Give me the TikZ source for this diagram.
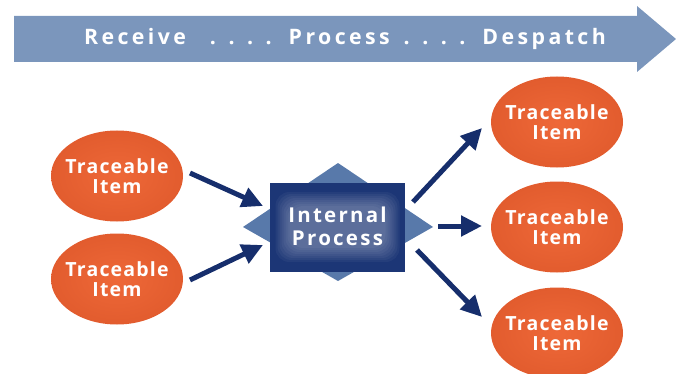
\documentclass[tikz,border=0pt]{standalone}
\usepackage{fontspec}
\setmainfont{Open Sans}
\newfontfamily\bannerfont[LetterSpace=16]{Open Sans}
\newfontfamily\itemfont[LetterSpace=6]{Open Sans}
\newfontfamily\procfont[LetterSpace=11]{Open Sans}
\usetikzlibrary{arrows.meta,shapes.geometric}
\definecolor{orng}{RGB}{238,104,56}
\definecolor{orngdark}{RGB}{226,92,46}
\definecolor{bannerblue}{RGB}{123,150,188}
\definecolor{navy}{RGB}{28,54,118}
\definecolor{arrownavy}{RGB}{22,46,108}
\definecolor{diamblue}{RGB}{88,121,170}
\newcommand{\fourdots}{.\hspace{12.5pt}.\hspace{12.5pt}.\hspace{12.5pt}.}
\tikzset{
  item/.style={ellipse, inner color=orng, outer color=orngdark, minimum width=132pt, minimum height=91pt, inner sep=0pt},
  itemtext/.style={text=white, align=center, inner sep=0pt, font=\itemfont\fontsize{19.5}{20}\selectfont\bfseries},
  flowarrow/.style={draw=arrownavy, line width=5pt, -{Triangle[length=21pt,width=20pt]}},
}
\begin{document}
\begin{tikzpicture}[x=1pt,y=-1pt]
\useasboundingbox (0,0) rectangle (676,374);
% banner
\fill[bannerblue] (14,16) -- (637,16) -- (637,6) -- (676,39) -- (637,72) -- (637,62) -- (14,62) -- cycle;
\node[text=white, inner sep=0pt, font=\bannerfont\fontsize{21.3}{24}\selectfont\bfseries] (banner) at (345,39) {Receive\hspace{24pt}\fourdots\hspace{17pt}Process\hspace{14pt}\fourdots\hspace{17pt}Despatch};
% diamond + square
\fill[diamblue] (243,227) -- (338,163) -- (433,227) -- (338,281) -- cycle;
\node[fill=navy, minimum width=135pt, minimum height=89pt, inner sep=0pt] (proc) at (337.5,227) {};
\foreach \w/\h in {124/70,120/66,116/62,112/58,108/54,104/50,100/46,96/42}{
  \fill[white, opacity=0.045, rounded corners=14pt] (337.5-\w/2,227-\h/2) rectangle (337.5+\w/2,227+\h/2);
}
\node[text=white, align=center, font=\procfont\fontsize{20.5}{23}\selectfont\bfseries] (proctext) at (337.5,226.5) {Internal\\Process};
% items
\node[item] (l1) at (117,176) {};
\node[item] (l2) at (117,279) {};
\node[item] (r1) at (557,122) {};
\node[item] (r2) at (557,227) {};
\node[item] (r3) at (557,333) {};
\foreach \n in {l1,l2,r1,r2,r3}{
  \node[itemtext] (\n t) at (\n.center) {Traceable\\Item};
}
% arrow coordinates
\coordinate (a1s) at (190,173); \coordinate (a1e) at (263,206);
\coordinate (a2s) at (190,280); \coordinate (a2e) at (263,245);
\coordinate (b1s) at (413,202); \coordinate (b1e) at (482,128);
\coordinate (b2s) at (438,226); \coordinate (b2e) at (482,226);
\coordinate (b3s) at (417,250); \coordinate (b3e) at (482,317);
\draw[flowarrow] (a1s) -- (a1e);
\draw[flowarrow] (a2s) -- (a2e);
\draw[flowarrow] (b1s) -- (b1e);
\draw[flowarrow] (b2s) -- (b2e);
\draw[flowarrow] (b3s) -- (b3e);
\end{tikzpicture}
\end{document}
